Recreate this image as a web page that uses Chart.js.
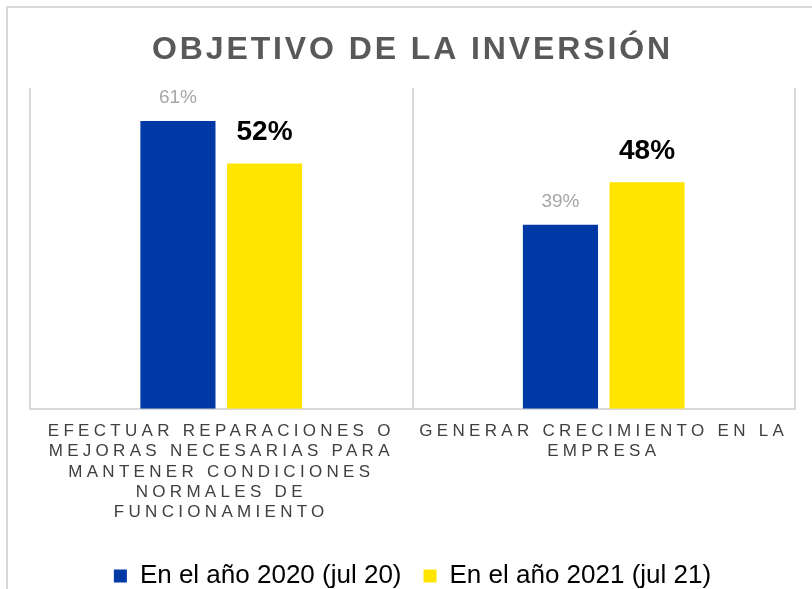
<!DOCTYPE html>
<html>
<head>
<meta charset="utf-8">
<script src="https://cdn.jsdelivr.net/npm/chart.js@4/dist/chart.umd.min.js"></script>
<style>
  body { margin: 0; background: #fff; }
  #frame { position: absolute; left: 6px; top: 6px; width: 820px; height: 600px;
           border-left: 2px solid #d9d9d9; border-top: 2px solid #d9d9d9; }
  #wrap { position: absolute; left: 0; top: 0; width: 812px; height: 589px; }
</style>
</head>
<body>
<div id="frame"></div>
<div id="wrap"><canvas id="myChart"></canvas></div>
<script>
const ctx = document.getElementById('myChart').getContext('2d');

// categories (already wrapped like the original)
const categories = [
    ['EFECTUAR REPARACIONES O', 'MEJORAS NECESARIAS PARA', 'MANTENER CONDICIONES', 'NORMALES DE', 'FUNCIONAMIENTO'],
    ['GENERAR CRECIMIENTO EN LA', 'EMPRESA'],
];

const seriesNames = ['En el año 2020 (jul 20)', 'En el año 2021 (jul 21)'];
const values2020 = [61, 39];
const values2021 = [52, 48];

const colors = ['#0039A6', '#FFE500'];

// style of the value labels over the bars, per dataset
const labelStyles = [
    { font: '19px "Liberation Sans", Arial, sans-serif', color: '#A6A6A6', gap: 14 },
    { font: 'bold 28px "Liberation Sans", Arial, sans-serif', color: '#000000', gap: 17 },
];

// value labels on top of bars
const barLabels = {
    id: 'barLabels',
    afterDatasetsDraw(chart) {
        const c = chart.ctx;
        chart.data.datasets.forEach((ds, i) => {
            const st = labelStyles[i];
            chart.getDatasetMeta(i).data.forEach((bar, j) => {
                c.save();
                c.font = st.font;
                c.fillStyle = st.color;
                c.textAlign = 'center';
                c.textBaseline = 'bottom';
                c.fillText(ds.data[j] + '%', bar.x, bar.y - st.gap);
                c.restore();
            });
        });
    }
};

// letter spacing for the title and the category labels
function addSpacing(obj, fn, sp) {
    if (!obj || obj['_sp_' + fn]) return;
    const orig = obj[fn];
    obj[fn] = function (...args) {
        const c = this.ctx;
        const prev = c.letterSpacing;
        c.letterSpacing = sp;
        orig.apply(this, args);
        c.letterSpacing = prev;
    };
    obj['_sp_' + fn] = true;
}
const spacing = {
    id: 'spacing',
    beforeDraw(chart) {
        addSpacing(chart.titleBlock, 'draw', '2.9px');
        addSpacing(chart.scales.x, 'drawLabels', '4.3px');
    }
};

const data = {
    labels: categories,
    datasets: [
        {
            label: seriesNames[0],
            data: values2020,
            backgroundColor: colors[0],
            categoryPercentage: 0.453,
            barPercentage: 0.867,
        },
        {
            label: seriesNames[1],
            data: values2021,
            backgroundColor: colors[1],
            categoryPercentage: 0.453,
            barPercentage: 0.867,
        },
    ],
};

const config = {
    type: 'bar',
    data: data,
    plugins: [barLabels, spacing],
    options: {
        responsive: true,
        maintainAspectRatio: false,
        animation: false,
        layout: {
            padding: { left: 30, right: 17, top: 0, bottom: -10 },
        },
        plugins: {
            tooltip: { enabled: false },
            title: {
                display: true,
                text: 'OBJETIVO DE LA INVERSIÓN',
                color: '#595959',
                font: { family: '"Liberation Sans", Arial, sans-serif', size: 32, weight: 'bold', lineHeight: 1.2 },
                padding: { top: 31, bottom: 18.6 },
            },
            legend: {
                position: 'bottom',
                labels: {
                    color: '#000000',
                    boxWidth: 13,
                    boxHeight: 13,
                    padding: 22,
                    font: { family: '"Liberation Sans", Arial, sans-serif', size: 26 },
                },
            },
        },
        scales: {
            x: {
                afterFit(scale) { scale.height += 6; },
                grid: {
                    color: '#d9d9d9',
                    lineWidth: 2,
                    offset: true,
                    drawTicks: false,
                },
                border: { display: true, color: '#d9d9d9', width: 2 },
                ticks: {
                    color: '#404040',
                    padding: 13,
                    maxRotation: 0,
                    autoSkip: false,
                    font: { family: '"Liberation Sans", Arial, sans-serif', size: 17, lineHeight: 1.18 },
                },
            },
            y: {
                display: false,
                min: 0,
                max: 68,
            },
        },
    },
};

const myChart = new Chart(ctx, config);
</script>
</body>
</html>
